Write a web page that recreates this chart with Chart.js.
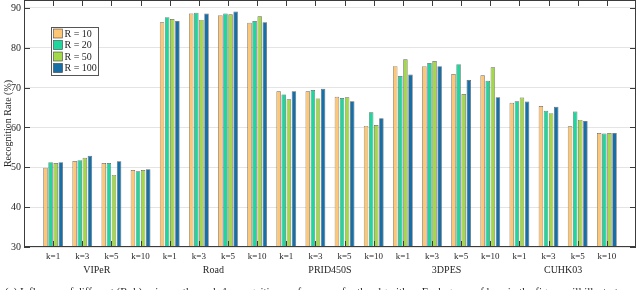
<!DOCTYPE html>
<html>
<head>
<meta charset="utf-8">
<script src="https://cdn.jsdelivr.net/npm/chart.js@4.4.1/dist/chart.umd.min.js"></script>
<style>
  html, body { margin: 0; padding: 0; background: #ffffff; }
  #wrap { width: 640px; height: 290px; position: relative; }
</style>
</head>
<body>
<div id="wrap"><canvas id="rankChart" width="640" height="290"></canvas></div>
<script>
// categories
const datasetNames = ['VIPeR', 'Road', 'PRID450S', '3DPES', 'CUHK03'];
const kLabels = ['k=1', 'k=3', 'k=5', 'k=10'];
const seriesNames = ['R = 10', 'R = 20', 'R = 50', 'R = 100'];

// rank-1 rates, ordered dataset by dataset, k=1,3,5,10 inside each
const r10  = [49.9, 51.6, 51.1, 49.3, 86.4, 88.6, 88.2, 86.3, 69.1, 69.1, 67.7, 60.4, 75.4, 75.4, 73.4, 73.1, 66.2, 65.4, 60.3, 58.6];
const r20  = [51.3, 51.8, 51.1, 49.0, 87.7, 88.8, 88.6, 86.7, 68.3, 69.4, 67.4, 63.8, 72.9, 76.2, 75.9, 71.7, 66.6, 64.2, 64.0, 58.5];
const r50  = [51.1, 52.4, 48.1, 49.3, 87.2, 87.0, 88.4, 87.9, 67.1, 67.3, 67.6, 60.6, 77.1, 76.7, 68.4, 75.1, 67.5, 63.6, 61.9, 58.6];
const r100 = [51.3, 52.9, 51.5, 49.5, 86.7, 88.6, 89.1, 86.4, 69.1, 69.7, 66.6, 62.3, 73.3, 75.4, 71.9, 67.6, 66.5, 65.2, 61.6, 58.6];

const yTicks = [30, 40, 50, 60, 70, 80, 90];
const yTitle = 'Recognition Rate (%)';
const caption = '(a) Influence of different (R, k) pairs on the rank-1 recognition performance for the algorithm. Each group of bars in the figure will illustrate';

const barColors = ['#fdc776', '#1fd69c', '#a3d84b', '#176fa6'];
const textColor = '#262626';
const serif = '"Liberation Serif", "Times New Roman", serif';

// one empty slot on each side, like the original axis limits
const labels = [''];
datasetNames.forEach(() => kLabels.forEach(k => labels.push(k)));
labels.push('');
function pad(arr) { return [null].concat(arr, [null]); }

const series = [r10, r20, r50, r100];
const datasets = series.map((arr, i) => ({
    label: seriesNames[i],
    data: pad(arr),
    backgroundColor: barColors[i],
    borderColor: 'rgba(45,45,45,0.75)',
    borderWidth: 0.7,
    categoryPercentage: 0.7,
    barPercentage: 0.88
}));

const decorPlugin = { // box, inward ticks, y labels, legend, group names, caption
    id: 'decor',
    afterDatasetsDraw(chart) {
        const ctx = chart.ctx;
        const a = chart.chartArea;
        const xs = chart.scales.x;
        const ys = chart.scales.y;
        ctx.save();

        // axes box
        ctx.strokeStyle = '#3c3c3c';
        ctx.lineWidth = 1;
        ctx.strokeRect(Math.round(a.left) + 0.5, Math.round(a.top) + 0.5,
                       Math.round(a.right - a.left) - 1, Math.round(a.bottom - a.top) - 1);

        // inward ticks
        ctx.beginPath();
        for (let i = 1; i < labels.length - 1; i++) {
            const px = Math.round(xs.getPixelForValue(i)) + 0.5;
            ctx.moveTo(px, a.bottom); ctx.lineTo(px, a.bottom - 6);
            ctx.moveTo(px, a.top); ctx.lineTo(px, a.top + 6);
        }
        yTicks.forEach(v => {
            const py = Math.round(ys.getPixelForValue(v)) + 0.5;
            ctx.moveTo(a.left, py); ctx.lineTo(a.left + 6, py);
            ctx.moveTo(a.right, py); ctx.lineTo(a.right - 6, py);
        });
        ctx.stroke();

        // y tick labels
        ctx.font = '10px ' + serif;
        ctx.fillStyle = textColor;
        ctx.textAlign = 'right';
        ctx.textBaseline = 'middle';
        yTicks.forEach(v => {
            ctx.fillText(String(v), a.left - 3, ys.getPixelForValue(v) + 0.5);
        });

        // legend box
        const lx = 51.5, ly = 27.5, lw = 47, lh = 48;
        ctx.fillStyle = '#ffffff';
        ctx.fillRect(lx, ly, lw, lh);
        ctx.strokeStyle = '#555555';
        ctx.lineWidth = 1;
        ctx.strokeRect(lx, ly, lw, lh);
        ctx.textAlign = 'left';
        seriesNames.forEach((name, i) => {
            const cy = 33.5 + i * 11.5;
            ctx.fillStyle = barColors[i];
            ctx.fillRect(53.5, cy - 4.5, 9, 9);
            ctx.strokeStyle = 'rgba(45,45,45,0.75)';
            ctx.lineWidth = 0.7;
            ctx.strokeRect(53.5, cy - 4.5, 9, 9);
            ctx.fillStyle = textColor;
            ctx.fillText(name, 64.5, cy + 0.5);
        });

        // dataset names under each group of k labels
        ctx.textAlign = 'center';
        ctx.fillStyle = textColor;
        datasetNames.forEach((name, g) => {
            const mid = (xs.getPixelForValue(g * 4 + 2) + xs.getPixelForValue(g * 4 + 3)) / 2;
            ctx.fillText(name, mid, 270.5);
        });

        // y axis title
        ctx.save();
        ctx.translate(8.5, (a.top + a.bottom) / 2);
        ctx.rotate(-Math.PI / 2);
        ctx.fillText(yTitle, 0, 0);
        ctx.restore();

        // caption line, cut by the bottom edge
        ctx.font = '11px ' + serif;
        ctx.textAlign = 'left';
        ctx.textBaseline = 'top';
        ctx.fillText(caption, 5, 287);

        ctx.restore();
    }
};

const ctx = document.getElementById('rankChart').getContext('2d');
new Chart(ctx, {
    type: 'bar',
    data: { labels: labels, datasets: datasets },
    plugins: [decorPlugin],
    options: {
        responsive: false,
        animation: false,
        layout: { padding: { top: 0, right: 1, left: 0, bottom: 0 } },
        plugins: {
            legend: { display: false },
            tooltip: { enabled: false }
        },
        scales: {
            x: {
                offset: false,
                grid: { display: false, drawTicks: false },
                border: { display: false },
                ticks: {
                    autoSkip: false,
                    maxRotation: 0,
                    padding: 4,
                    color: textColor,
                    font: { family: serif, size: 9 }
                },
                afterFit(scale) { scale.height = 43; }
            },
            y: {
                min: 30,
                max: 92,
                grid: { color: '#e4e4e4', drawTicks: false, lineWidth: 1 },
                border: { display: false },
                afterBuildTicks(scale) { scale.ticks = yTicks.map(v => ({ value: v })); },
                ticks: { display: false },
                afterFit(scale) { scale.width = 24; }
            }
        }
    }
});
</script>
</body>
</html>
